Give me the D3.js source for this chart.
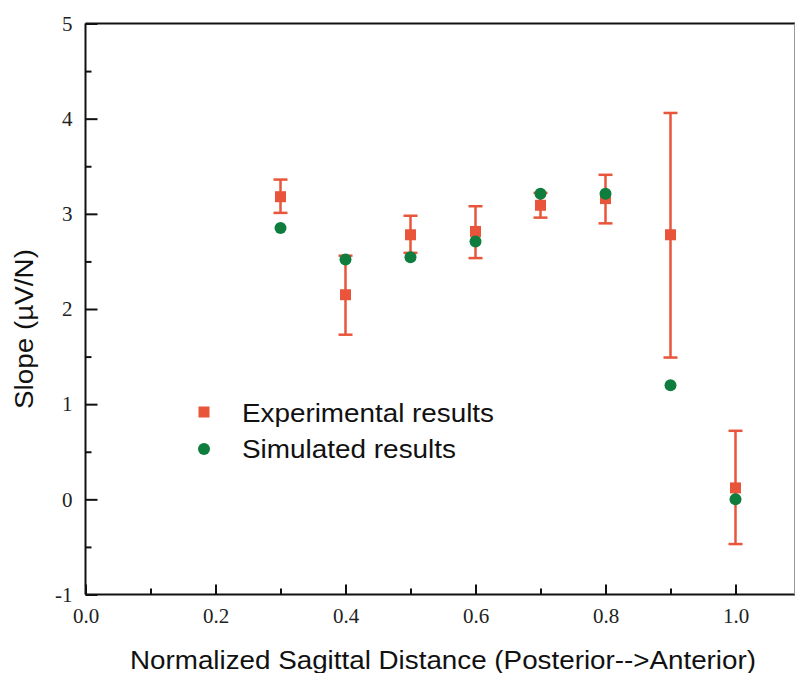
<!DOCTYPE html>
<html><head><meta charset="utf-8">
<script src="https://cdn.jsdelivr.net/npm/d3@7"></script>
<style>body{margin:0;background:#fff}svg{display:block}</style>
</head><body>
<script>
// Data
const xPositions = [0.3, 0.4, 0.5, 0.6, 0.7, 0.8, 0.9, 1.0];
const expValues  = [3.18, 2.15, 2.78, 2.815, 3.09, 3.16, 2.78, 0.12];
const expUpper   = [3.36, 2.56, 2.98, 3.08, 3.22, 3.41, 4.06, 0.72];
const expLower   = [3.01, 1.73, 2.59, 2.535, 2.96, 2.90, 1.49, -0.47];
const simValues  = [2.85, 2.52, 2.545, 2.71, 3.21, 3.21, 1.20, 0.0];
const xTicks = [0.0, 0.2, 0.4, 0.6, 0.8, 1.0];
const xMinorTicks = [0.1, 0.3, 0.5, 0.7, 0.9];
const yTicks = [-1, 0, 1, 2, 3, 4, 5];
const yMinorTicks = [-0.5, 0.5, 1.5, 2.5, 3.5, 4.5];
const legendLabels = ["Experimental results", "Simulated results"];
const xTitle = "Normalized Sagittal Distance (Posterior-->Anterior)";
const yTitle = "Slope (\u00B5V/N)";

const W = 795, H = 673;
const orange = "#E8553A", green = "#0E7D3E";
const svg = d3.select("body").append("svg").attr("width", W).attr("height", H);

const x = d3.scaleLinear().domain([0, 1.1]).range([85.5, 800.5]);
const y = d3.scaleLinear().domain([-1, 5]).range([594.5, 23.5]);

// frame
svg.append("line").attr("x1", 85.5).attr("x2", 85.5).attr("y1", 23.5).attr("y2", 594.5).attr("stroke", "#111").attr("stroke-width", 2);
svg.append("line").attr("x1", 85.5).attr("x2", W).attr("y1", 594.5).attr("y2", 594.5).attr("stroke", "#111").attr("stroke-width", 2);
svg.append("line").attr("x1", 85.5).attr("x2", W).attr("y1", 23.5).attr("y2", 23.5).attr("stroke", "#111").attr("stroke-width", 2);
svg.append("line").attr("x1", 794.5).attr("x2", 794.5).attr("y1", 23.5).attr("y2", 594.5).attr("stroke", "#999").attr("stroke-width", 1);

const serif = "'Liberation Serif', 'Times New Roman', serif";
const sans = "'Liberation Sans', Arial, sans-serif";

// y axis (inward ticks)
const yAxis = d3.axisLeft(y).tickValues(yTicks).tickSize(-12).tickPadding(25).tickFormat(d => String(d));
const gy = svg.append("g").attr("transform", "translate(85.5,0)").call(yAxis);
gy.select(".domain").remove();
gy.selectAll(".tick line").attr("stroke", "#111").attr("stroke-width", 2);
gy.selectAll(".tick text").attr("font-family", serif).attr("font-size", 21).attr("fill", "#222").attr("x", -13);
const yMinor = d3.axisLeft(y).tickValues(yMinorTicks).tickSize(-6).tickFormat("");
const gym = svg.append("g").attr("transform", "translate(85.5,0)").call(yMinor);
gym.select(".domain").remove();
gym.selectAll(".tick line").attr("stroke", "#111").attr("stroke-width", 2);

// x axis (inward ticks)
const xAxis = d3.axisBottom(x).tickValues(xTicks).tickSize(-10).tickPadding(16).tickFormat(d => d.toFixed(1));
const gx = svg.append("g").attr("transform", "translate(0,594.5)").call(xAxis);
gx.select(".domain").remove();
gx.selectAll(".tick line").attr("stroke", "#111").attr("stroke-width", 2);
gx.selectAll(".tick text").attr("font-family", serif).attr("font-size", 21).attr("fill", "#222").attr("y", 14);
const xMinor = d3.axisBottom(x).tickValues(xMinorTicks).tickSize(-6).tickFormat("");
const gxm = svg.append("g").attr("transform", "translate(0,594.5)").call(xMinor);
gxm.select(".domain").remove();
gxm.selectAll(".tick line").attr("stroke", "#111").attr("stroke-width", 2);

// titles
svg.append("text").attr("x", 443).attr("y", 669).attr("text-anchor", "middle")
  .attr("font-family", sans).attr("font-size", 25).attr("fill", "#111")
  .attr("textLength", 626).attr("lengthAdjust", "spacingAndGlyphs").text(xTitle);
svg.append("text").attr("transform", "translate(33,329) rotate(-90)").attr("text-anchor", "middle")
  .attr("font-family", sans).attr("font-size", 25).attr("fill", "#111")
  .attr("textLength", 160).attr("lengthAdjust", "spacingAndGlyphs").text(yTitle);

// data
const data = xPositions.map((v, i) => ({x: v, e: expValues[i], hi: expUpper[i], lo: expLower[i], s: simValues[i]}));
const g = svg.append("g");
const eb = g.selectAll(".eb").data(data).enter().append("g");
eb.append("line").attr("x1", d => x(d.x)).attr("x2", d => x(d.x)).attr("y1", d => y(d.hi)).attr("y2", d => y(d.lo))
  .attr("stroke", orange).attr("stroke-width", 2.5);
eb.append("line").attr("x1", d => x(d.x) - 7).attr("x2", d => x(d.x) + 7).attr("y1", d => y(d.hi)).attr("y2", d => y(d.hi))
  .attr("stroke", orange).attr("stroke-width", 2.5);
eb.append("line").attr("x1", d => x(d.x) - 7).attr("x2", d => x(d.x) + 7).attr("y1", d => y(d.lo)).attr("y2", d => y(d.lo))
  .attr("stroke", orange).attr("stroke-width", 2.5);
eb.append("rect").attr("x", d => x(d.x) - 5.5).attr("y", d => y(d.e) - 5.5).attr("width", 11).attr("height", 11).attr("fill", orange);
g.selectAll(".sim").data(data).enter().append("circle")
  .attr("cx", d => x(d.x)).attr("cy", d => y(d.s)).attr("r", 6).attr("fill", green);

// legend
svg.append("rect").attr("x", 204 - 5.5).attr("y", 412 - 5.5).attr("width", 11).attr("height", 11).attr("fill", orange);
svg.append("circle").attr("cx", 204).attr("cy", 449).attr("r", 6).attr("fill", green);
svg.append("text").attr("x", 242).attr("y", 422).attr("font-family", sans).attr("font-size", 26).attr("fill", "#111")
  .attr("textLength", 252).attr("lengthAdjust", "spacingAndGlyphs").text(legendLabels[0]);
svg.append("text").attr("x", 242).attr("y", 458).attr("font-family", sans).attr("font-size", 26).attr("fill", "#111")
  .attr("textLength", 214).attr("lengthAdjust", "spacingAndGlyphs").text(legendLabels[1]);
</script>
</body></html>
